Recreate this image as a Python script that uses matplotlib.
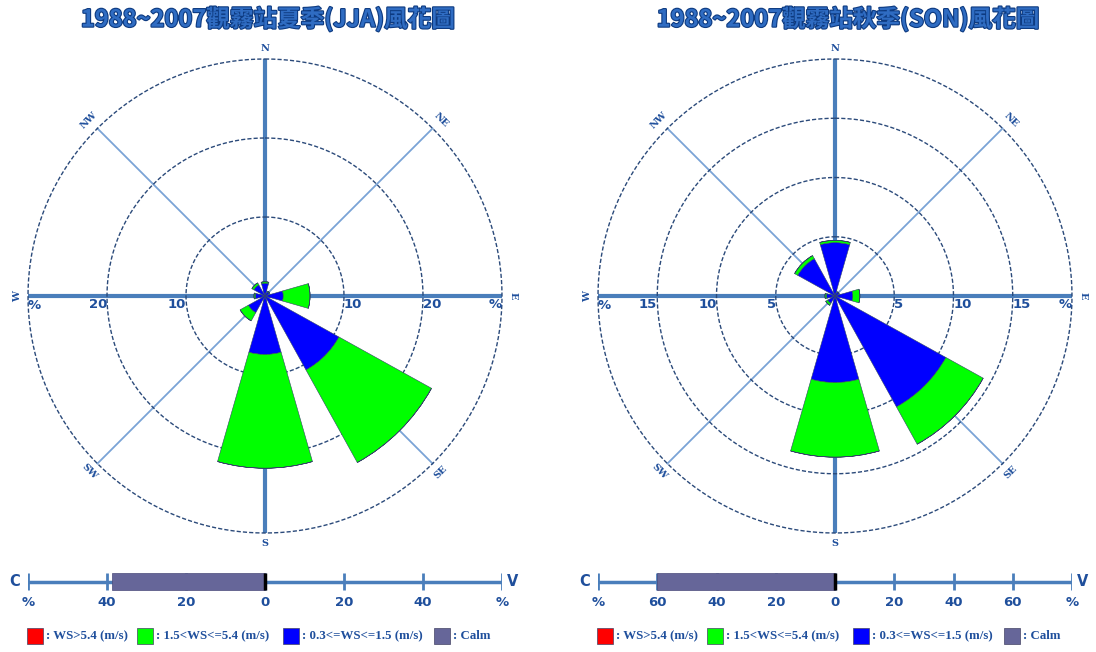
import numpy as np
import matplotlib
matplotlib.use("Agg")
import matplotlib.pyplot as plt
from matplotlib.patches import Rectangle
from matplotlib.transforms import offset_copy
import matplotlib.patheffects as pe

# ---------------- data ----------------
directions = ['N', 'NE', 'E', 'SE', 'S', 'SW', 'W', 'NW']
dir_angles = [0, 45, 90, 135, 180, 225, 270, 315]

titles = ['1988~2007觀霧站夏季(JJA)風花圖', '1988~2007觀霧站秋季(SON)風花圖']

# JJA (summer) frequencies in % per speed class
jja_low = [1.6, 0.6, 2.3, 10.7, 7.4, 2.4, 1.2, 1.6]     # 0.3<=WS<=1.5
jja_mid = [0.2, 0.1, 3.4, 13.4, 14.4, 1.2, 0.2, 0.3]    # 1.5<WS<=5.4
jja_high = [0, 0, 0, 0, 0, 0, 0, 0]                     # WS>5.4
jja_calm = 38.7

# SON (autumn)
son_low = [4.5, 0.4, 1.5, 10.7, 7.3, 0.7, 0.7, 3.6]
son_mid = [0.2, 0.0, 0.6, 3.6, 6.3, 0.2, 0.15, 0.3]
son_high = [0, 0, 0, 0, 0, 0, 0, 0]
son_calm = 60.0

ring_values = [[10, 20, 30], [5, 10, 15, 20]]
ring_outer = [30, 20]
calm_limits = [60, 80]
calm_ticks = [[-60, -40, -20, 0, 20, 40, 60], [-80, -60, -40, -20, 0, 20, 40, 60, 80]]

legend_labels = [': WS>5.4 (m/s)', ': 1.5<WS<=5.4 (m/s)', ': 0.3<=WS<=1.5 (m/s)', ': Calm']

# ---------------- style ----------------
C_RED, C_GREEN, C_BLUE, C_CALM = '#ff0000', '#00ff00', '#0000ff', '#666699'
AXIS_C = '#4a7ebb'
DIAG_C = '#7aa3d6'
RING_C = '#2b4a7a'
TEXT_C = '#1f4f9c'

W, H = 1096, 652
fig = plt.figure(figsize=(W / 100, H / 100), dpi=100)
fig.patch.set_facecolor('white')

def fx(px):
    return px / W

def fy(py):
    return 1 - py / H

R_PX = 237
centers = [(265, 296), (835, 296)]
datasets = [(jja_low, jja_mid, jja_high, jja_calm), (son_low, son_mid, son_high, son_calm)]

for k in range(2):
    cx, cy = centers[k]
    low, mid, high, calm = datasets[k]
    rmax = ring_outer[k]
    ax = fig.add_axes([fx(cx - R_PX), fy(cy + R_PX), fx(2 * R_PX), 2 * R_PX / H], projection='polar')
    ax.set_theta_zero_location('N')
    ax.set_theta_direction(-1)
    ax.set_ylim(0, rmax)
    ax.grid(False)
    ax.spines['polar'].set_visible(False)
    ax.set_xticks([])
    ax.set_yticks([])
    ax.patch.set_alpha(0)

    th = np.deg2rad(dir_angles)
    # axis lines
    for a in dir_angles:
        t = np.deg2rad(a)
        if a % 90 == 0:
            ax.plot([t, t], [0, rmax], color=AXIS_C, lw=3, zorder=1, solid_capstyle='butt', clip_on=False)
        else:
            ax.plot([t, t], [0, rmax], color=DIAG_C, lw=1.3, zorder=1, clip_on=False)
    # rings
    tt = np.linspace(0, 2 * np.pi, 721)
    for r in ring_values[k]:
        ax.plot(tt, np.full_like(tt, r), color=RING_C, lw=1.0, ls=(0, (3, 1.5)), zorder=1, clip_on=False)

    # bars
    width = np.deg2rad(32)
    low = np.array(low); mid = np.array(mid); high = np.array(high)
    ax.bar(th, low, width=width, bottom=0, color=C_BLUE, edgecolor='#334466', lw=0.4, zorder=3)
    ax.bar(th, mid, width=width, bottom=low, color=C_GREEN, edgecolor='#334466', lw=0.4, zorder=3)
    ax.bar(th, high, width=width, bottom=low + mid, color=C_RED, edgecolor='#334466', lw=0.4, zorder=3)

    # ring labels on W-E axis
    tr = offset_copy(ax.transData, fig=fig, x=0, y=-9, units='dots')
    for r in ring_values[k]:
        lab = '%' if r == rmax else str(r)
        ax.text(np.deg2rad(270), r, lab, transform=tr, ha='left' if r == rmax else 'right',
                va='center', fontsize=9.5, fontweight='bold', color=TEXT_C, zorder=5)
        ax.text(np.deg2rad(90), r, lab, transform=tr, ha='right' if r == rmax else 'left',
                va='center', fontsize=9.5, fontweight='bold', color=TEXT_C, zorder=5)

    # direction labels
    rots = {'N': 0, 'NE': -45, 'E': -90, 'SE': 45, 'S': 0, 'SW': -45, 'W': 90, 'NW': 45}
    for d, a in zip(directions, dir_angles):
        rr = rmax * (1.045 if a % 90 == 0 else 1.05)
        ax.text(np.deg2rad(a), rr, d, ha='center', va='center', fontsize=7, fontweight='bold',
                family='DejaVu Serif', color=TEXT_C, rotation=rots[d], rotation_mode='anchor')

    # title
    fig.text(fx(cx + 3 + (10 if k == 1 else 0)), fy(19), titles[k], ha='center', va='center',
             fontsize=17, fontweight='bold', family=['Noto Sans CJK TC', 'DejaVu Sans'],
             color='#2f6cc2',
             path_effects=[pe.withStroke(linewidth=1.6, foreground='#0d3a80')])

    # calm bar axis
    lim = calm_limits[k]
    cax = fig.add_axes([fx(cx - R_PX), fy(591), fx(2 * R_PX), 19 / H])
    cax.set_xlim(-lim, lim)
    cax.set_ylim(0, 1)
    cax.axis('off')
    cax.plot([-lim, lim], [0.5, 0.5], color=AXIS_C, lw=2.5, zorder=1)
    cax.vlines(calm_ticks[k], 0.05, 0.95, color=AXIS_C, lw=2, zorder=1)
    cax.barh(0.5, -calm, height=0.9, left=0, color=C_CALM, edgecolor='#4a4a7a', lw=0.5, zorder=2)
    cax.vlines([0], 0.05, 0.95, color='black', lw=2.5, zorder=3)
    for t in calm_ticks[k]:
        lab = '%' if abs(t) == lim else str(abs(t))
        cax.text(t, -0.6, lab, ha='center', va='center', fontsize=9.5, fontweight='bold',
                 color=TEXT_C, clip_on=False)
    px_per = R_PX / lim
    cax.text(-lim - 13 / px_per, 0.5, 'C', ha='center', va='center', fontsize=10.5,
             fontweight='bold', color=TEXT_C, clip_on=False)
    cax.text(lim + 11 / px_per, 0.5, 'V', ha='center', va='center', fontsize=10.5,
             fontweight='bold', color=TEXT_C, clip_on=False)

    # legend
    base = cx - 238
    sq_x = [base, base + 110, base + 256, base + 407]
    colors = [C_RED, C_GREEN, C_BLUE, C_CALM]
    for sx, col, lab in zip(sq_x, colors, legend_labels):
        fig.add_artist(Rectangle((fx(sx), fy(644)), fx(16), 16 / H, transform=fig.transFigure,
                                 facecolor=col, edgecolor='#444466', lw=0.5))
        fig.text(fx(sx + 19), fy(636), lab, ha='left', va='center', fontsize=9.3,
                 fontweight='bold', family='Liberation Serif', color=TEXT_C)

fig.savefig('out.png', dpi=100, facecolor='white')
